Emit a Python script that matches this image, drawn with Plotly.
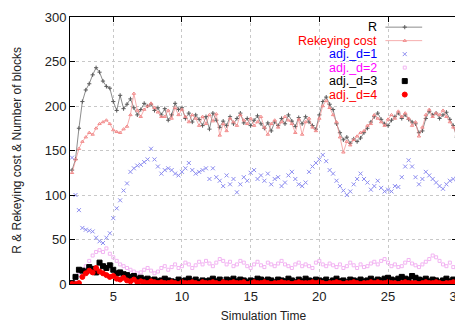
import plotly.graph_objects as go

# Simulation time grid (2 .. 30, step 0.25)
time = [round(2 + 0.25 * i, 2) for i in range(113)]

r_vals = [
    128, 140, 175, 205, 218, 225, 235, 243, 238, 228, 222, 220,
    205, 195, 212, 197, 202, 208, 198, 190, 196, 203, 200, 202,
    195, 198, 190, 197, 184, 190, 203, 196, 198, 186, 192, 182,
    190, 185, 178, 188, 174, 192, 184, 176, 183, 178, 188, 180,
    186, 192, 181, 186, 178, 184, 189, 180, 175, 181, 172, 182,
    178, 186, 180, 190, 183, 177, 187, 180, 188, 182, 178, 174,
    190, 205, 210, 202, 196, 180, 170, 162, 165, 158, 163, 160,
    164, 170, 175, 182, 188, 192, 185, 180, 178, 184, 188, 192,
    186, 190, 185, 182, 180, 170, 172, 186, 194, 190, 192, 186,
    190, 193, 185, 178, 165]

rekey_vals = [
    125, 140, 152, 160, 165, 170, 168, 175, 180, 182, 184, 180,
    173, 171, 170, 174, 177, 190, 214, 195, 188, 196, 200, 203,
    198, 193, 188, 188, 195, 186, 198, 190, 196, 188, 182, 190,
    186, 178, 188, 180, 190, 183, 191, 167, 180, 172, 186, 182,
    178, 190, 184, 180, 186, 178, 182, 188, 176, 168, 180, 184,
    176, 182, 188, 184, 180, 170, 185, 168, 182, 186, 176, 172,
    186, 200, 206, 198, 190, 182, 165, 148, 160, 156, 162, 166,
    170, 172, 178, 180, 190, 186, 182, 178, 185, 190, 186, 194,
    188, 192, 186, 178, 182, 166, 176, 190, 196, 188, 192, 190,
    195, 188, 182, 176, 168]

adj_d1 = [
    142, 100, 83, 63, 61, 60, 59, 52, 48, 46, 52, 57,
    74, 85, 94, 105, 113, 126, 130, 133, 134, 137, 140, 152,
    140, 132, 124, 128, 130, 128, 124, 122, 126, 130, 136, 128,
    124, 126, 128, 130, 118, 130, 120, 116, 110, 122, 112, 118,
    103, 112, 120, 116, 125, 128, 118, 122, 116, 124, 112, 118,
    120, 110, 114, 122, 126, 118, 112, 110, 114, 126, 132, 136,
    140, 145, 138, 128, 124, 116, 110, 105, 100, 104, 112, 118,
    124, 118, 114, 106, 110, 116, 108, 104, 106, 104, 110, 109,
    120, 132, 139, 132, 120, 112, 118, 126, 122, 118, 114, 110,
    107, 112, 116, 118, 118]

adj_d2 = [
    2, 6, 10, 15, 20, 26, 32, 36, 38, 36, 40, 34,
    30, 26, 22, 20, 18, 16, 14, 12, 13, 16, 18, 15,
    12, 14, 18, 20, 16, 19, 22, 18, 20, 24, 22, 18,
    21, 25, 22, 26, 23, 20, 24, 28, 26, 22, 25, 20,
    22, 26, 24, 20, 18, 22, 25, 21, 19, 24, 22, 20,
    23, 26, 22, 20, 18, 22, 24, 20, 22, 20, 18, 24,
    26, 22, 20, 23, 21, 19, 22, 18, 20, 24, 21, 18,
    22, 19, 20, 23, 25, 22, 26, 28, 24, 20, 22, 19,
    20, 24, 27, 23, 21, 19, 22, 25, 28, 32, 30, 26,
    22, 20, 24, 19, 18]

adj_d3 = [
    1, 8, 16, 15, 14, 19, 17, 13, 24, 20, 18, 21,
    16, 12, 13, 11, 10, 8, 9, 6, 7, 5, 6, 4,
    5, 3, 4, 6, 4, 3, 2, 5, 3, 4, 6, 3,
    5, 2, 4, 3, 4, 6, 3, 5, 2, 5, 4, 6,
    3, 5, 4, 2, 4, 3, 6, 5, 3, 5, 4, 2,
    5, 4, 3, 6, 4, 2, 5, 3, 6, 4, 3, 5,
    4, 3, 5, 2, 4, 6, 3, 4, 2, 5, 4, 3,
    5, 3, 4, 6, 3, 5, 4, 6, 7, 5, 4, 6,
    8, 6, 5, 9, 7, 5, 4, 6, 3, 5, 4, 2,
    4, 6, 3, 5, 3]

adj_d4 = [
    0, 0, 1, 8, 12, 15, 13, 18, 14, 12, 10, 8,
    9, 6, 5, 7, 4, 3, 5, 2, 3, 2, 1, 3,
    2, 1, 2, 1, 1, 2, 1, 0, 2, 1, 1, 2,
    1, 0, 2, 1, 1, 2, 1, 0, 2, 1, 1, 2,
    1, 1, 2, 0, 1, 2, 1, 1, 2, 1, 0, 1,
    1, 2, 1, 1, 0, 1, 2, 1, 1, 1, 2, 1,
    2, 1, 0, 1, 1, 2, 1, 0, 1, 1, 2, 1,
    0, 1, 1, 2, 1, 2, 1, 1, 2, 1, 1, 0,
    1, 2, 1, 1, 1, 0, 1, 2, 1, 1, 2, 1,
    0, 1, 1, 2, 1]

x_ticks = [5, 10, 15, 20, 25, 30]
y_ticks = [0, 50, 100, 150, 200, 250, 300]

series_names = ["R", "Rekeying cost", "adj._d=1", "adj._d=2", "adj._d=3", "adj._d=4"]
series_colors = ["#5a5a5a", "#f28a8a", "#8c8cf0", "#f2b4f2", "#000000", "#ff0000"]
series_modes = ["lines+markers", "lines+markers", "markers", "markers", "markers", "markers"]
series_symbols = ["cross-thin-open", "triangle-up-open", "x-thin-open", "square-open", "square", "circle"]
series_sizes = [3, 3, 4, 3, 5, 5]
label_colors = ["#000000", "#ff0000", "#0000ff", "#ff00ff", "#000000", "#ff0000"]

all_vals = [r_vals, rekey_vals, adj_d1, adj_d2, adj_d3, adj_d4]

font_family = "Liberation Sans, Arial, sans-serif"
fig = go.Figure()

for name, vals, col, mode, sym, sz in zip(series_names, all_vals, series_colors,
                                          series_modes, series_symbols, series_sizes):
    fig.add_trace(go.Scatter(
        x=time, y=vals, mode=mode, name=name, showlegend=False,
        line=dict(color=col, width=0.7),
        marker=dict(color=col, symbol=sym, size=sz, line=dict(color=col, width=1)),
    ))

# legend key (drawn on an overlay axis spanning the plot area 0..1)
key_x0, key_x1, key_xm, label_x = 0.815, 0.91, 0.865, 0.797
key_top, key_step = 0.962, 0.0505
for k, (name, col, mode, sym, sz, lc) in enumerate(zip(series_names, series_colors, series_modes,
                                                       series_symbols, series_sizes, label_colors)):
    yk = key_top - k * key_step
    if mode == "lines+markers":
        fig.add_trace(go.Scatter(x=[key_x0, key_xm, key_x1], y=[yk, yk, yk], mode="lines",
                                 line=dict(color=col, width=0.7), xaxis="x2", yaxis="y2",
                                 showlegend=False, hoverinfo="skip"))
    fig.add_trace(go.Scatter(x=[key_xm], y=[yk], mode="markers",
                             marker=dict(color=col, symbol=sym, size=sz, line=dict(color=col, width=1)),
                             xaxis="x2", yaxis="y2", showlegend=False, hoverinfo="skip"))
    fig.add_annotation(x=label_x, y=yk, xref="x2", yref="y2", text=name, showarrow=False,
                       xanchor="right", yanchor="middle", borderpad=0,
                       font=dict(family=font_family, size=12.5, color=lc))

axis_common = dict(showline=True, linecolor="#000000", linewidth=1, mirror="ticks",
                   ticks="inside", ticklen=5, tickcolor="#000000", ticklabeloverflow="allow",
                   showgrid=True, gridcolor="#c8c8c8", griddash="dot", gridwidth=1,
                   zeroline=False, automargin=False,
                   tickfont=dict(family=font_family, size=13, color="#222222"))

# the page body has an 8 px margin, so the figure is 8 px smaller than the window
fig.update_layout(
    width=455, height=315,
    margin=dict(l=62, r=6, t=9, b=39),
    paper_bgcolor="white", plot_bgcolor="white",
    font=dict(family=font_family, size=12, color="#222222"),
    xaxis=dict(range=[1.85, 30.02], tickvals=x_ticks, ticktext=[str(v) for v in x_ticks],
               title=dict(text="Simulation Time", font=dict(size=12), standoff=11), **axis_common),
    yaxis=dict(range=[0, 300], tickvals=y_ticks, ticktext=[str(v) for v in y_ticks],
               title=dict(text="R & Rekeying cost & Number of blocks", font=dict(size=12), standoff=20),
               **axis_common),
    xaxis2=dict(range=[0, 1], overlaying="x", visible=False, fixedrange=True),
    yaxis2=dict(range=[0, 1], overlaying="y", visible=False, fixedrange=True),
)

fig.write_html("out.html")
